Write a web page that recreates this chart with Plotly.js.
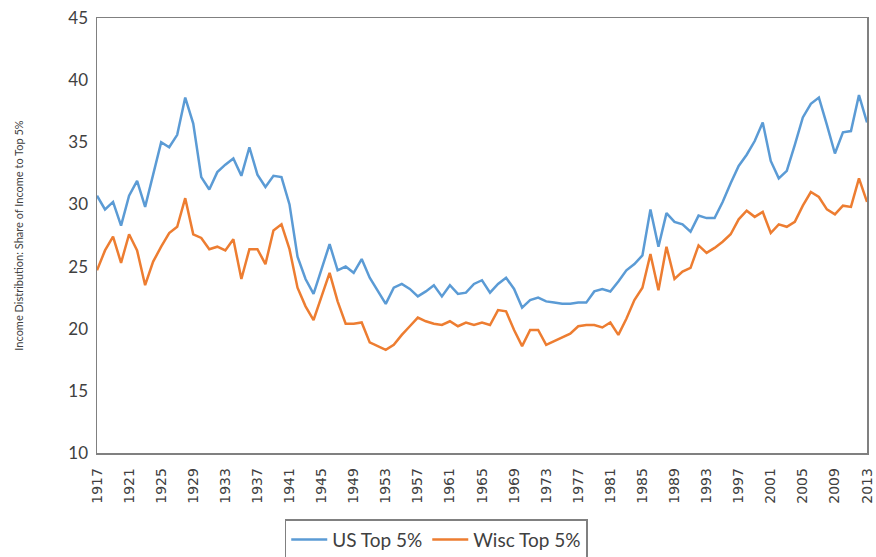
<!DOCTYPE html>
<html>
<head>
<meta charset="utf-8">
<script src="https://cdn.plot.ly/plotly-3.0.1.min.js"></script>
<style>html,body{margin:0;padding:0;background:#fff}#chart{width:876px;height:557px}</style>
</head>
<body>
<div id="chart"></div>
<script>
const years = [];
for (let y = 1917; y <= 2013; y++) years.push(y);

const usTop5 = [
30.7,29.6,30.2,28.3,30.7,31.9,29.8,32.3,35.0,34.6,
35.6,38.6,36.5,32.2,31.2,32.6,33.2,33.7,32.3,34.6,
32.4,31.4,32.3,32.2,30.0,25.8,24.0,22.8,24.8,26.8,
24.7,25.0,24.5,25.6,24.1,23.1,22.0,23.3,23.6,23.2,
22.6,23.0,23.5,22.6,23.5,22.8,22.9,23.6,23.9,22.9,
23.6,24.1,23.2,21.7,22.3,22.5,22.2,22.1,22.0,22.0,
22.1,22.1,23.0,23.2,23.0,23.8,24.7,25.2,25.9,29.6,
26.6,29.3,28.6,28.4,27.8,29.1,28.9,28.9,30.2,31.7,
33.1,34.0,35.1,36.6,33.5,32.1,32.7,34.8,37.0,38.1,
38.6,36.4,34.1,35.8,35.9,38.8,36.6
];

const wiscTop5 = [
24.7,26.3,27.4,25.3,27.6,26.3,23.5,25.4,26.6,27.7,
28.2,30.5,27.6,27.3,26.4,26.6,26.3,27.2,24.0,26.4,
26.4,25.2,27.9,28.4,26.4,23.3,21.8,20.7,22.6,24.5,
22.2,20.4,20.4,20.5,18.9,18.6,18.3,18.7,19.5,20.2,
20.9,20.6,20.4,20.3,20.6,20.2,20.5,20.3,20.5,20.3,
21.5,21.4,19.9,18.6,19.9,19.9,18.7,19.0,19.3,19.6,
20.2,20.3,20.3,20.1,20.5,19.5,20.8,22.3,23.3,26.0,
23.1,26.6,24.0,24.6,24.9,26.7,26.1,26.5,27.0,27.6,
28.8,29.5,29.0,29.4,27.7,28.4,28.2,28.6,29.9,31.0,
30.6,29.6,29.2,29.9,29.8,32.1,30.2
];

const xTicks = [];
for (let y = 1917; y <= 2013; y += 4) xTicks.push(y);
const yTicks = [10,15,20,25,30,35,40,45];

const traces = [
  {x: years, y: usTop5, name: 'US Top 5%', type: 'scatter', mode: 'lines',
   line: {color: '#5B9BD5', width: 2.5}},
  {x: years, y: wiscTop5, name: 'Wisc Top 5%', type: 'scatter', mode: 'lines',
   line: {color: '#ED7D31', width: 2.5}}
];

const layout = {
  width: 876, height: 557,
  margin: {l: 97, r: 9, t: 18, b: 104},
  paper_bgcolor: '#fff', plot_bgcolor: '#fff',
  font: {family: 'Lato, "Open Sans", sans-serif', color: '#404040'},
  showlegend: true,
  legend: {orientation: 'h', x: 0.498, xref: 'container', xanchor: 'center',
           y: 0.068, yref: 'container', yanchor: 'top',
           bordercolor: '#808080', borderwidth: 1.5, itemwidth: 36,
           font: {size: 19, color: '#404040'}},
  xaxis: {range: [1917, 2013], tickvals: xTicks, ticktext: xTicks.map(String),
          tickangle: -90, tickfont: {family: '"DejaVu Sans", sans-serif', size: 14, color: '#404040'},
          ticklabelstandoff: 8, automargin: false,
          showgrid: false, zeroline: false, showline: true, mirror: true,
          linecolor: '#808080', linewidth: 1.5, ticks: '', ticklen: 0},
  yaxis: {range: [10, 45], tickvals: yTicks, tickfont: {size: 17, color: '#404040'},
          ticklabelstandoff: 4, automargin: false,
          showgrid: false, zeroline: false, showline: true, mirror: true,
          linecolor: '#808080', linewidth: 1.5, ticks: '',
          title: {text: 'Income Distribution: Share of Income to Top 5%',
                  font: {size: 11, color: '#404040'}, standoff: 42}}
};

Plotly.newPlot('chart', traces, layout, {displayModeBar: false, staticPlot: true});
</script>
</body>
</html>
